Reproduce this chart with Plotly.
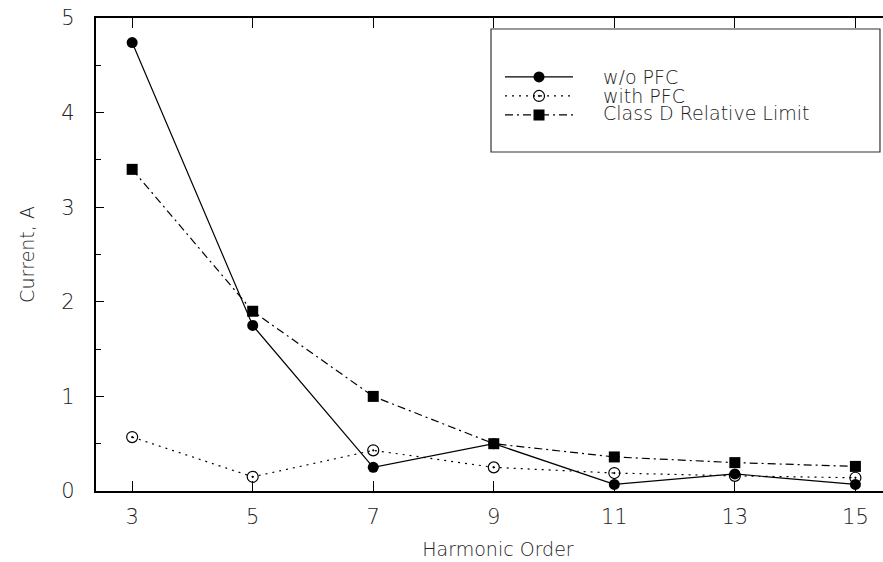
import plotly.graph_objects as go

harmonic_order = [3, 5, 7, 9, 11, 13, 15]
wo_pfc = [4.74, 1.75, 0.25, 0.50, 0.07, 0.18, 0.07]
with_pfc = [0.57, 0.15, 0.43, 0.25, 0.19, 0.16, 0.14]
class_d_limit = [3.40, 1.90, 1.00, 0.50, 0.36, 0.30, 0.26]
series_names = ["w/o PFC", "with PFC", "Class D Relative Limit"]
x_ticks = [3, 5, 7, 9, 11, 13, 15]
y_ticks = [0, 1, 2, 3, 4, 5]

FONT = "DejaVu Sans"
TXT = "#222222"
W = 200

fig = go.Figure()
fig.add_trace(go.Scatter(
    x=harmonic_order, y=wo_pfc, name=" ", mode="lines+markers",
    hovertext=series_names[0],
    line=dict(color="black", width=1.2, dash="solid"),
    marker=dict(symbol="circle", size=11, color="black"),
))
fig.add_trace(go.Scatter(
    x=harmonic_order, y=with_pfc, name=" ", mode="lines+markers",
    hovertext=series_names[1],
    line=dict(color="black", width=1.2, dash="2px,5px"),
    marker=dict(symbol="circle-open-dot", size=11, color="black", line=dict(width=1.2)),
))
fig.add_trace(go.Scatter(
    x=harmonic_order, y=class_d_limit, name=" ", mode="lines+markers",
    hovertext=series_names[2],
    line=dict(color="black", width=1.2, dash="8px,4px,2px,4px"),
    marker=dict(symbol="square", size=11, color="black"),
))

# legend frame
fig.add_shape(type="rect", xref="paper", yref="paper",
              x0=0.4913, x1=0.9751, y0=0.7167, y1=0.9767,
              line=dict(color="#333333", width=1.2), fillcolor="white", layer="below")

# legend labels
for name, yp in zip(series_names, [0.8753, 0.8372, 0.7992]):
    fig.add_annotation(text=name, xref="paper", yref="paper", x=0.6294, y=yp,
                       xanchor="left", yanchor="middle", showarrow=False,
                       height=17, valign="middle", borderpad=0,
                       font=dict(family=FONT, size=19, color=TXT, weight=W))

fig.update_layout(
    width=900, height=562,
    margin=dict(l=96, r=0, t=18, b=71, autoexpand=False),
    paper_bgcolor="white", plot_bgcolor="white",
    font=dict(family=FONT, color=TXT, size=18, weight=W),
    showlegend=True,
    legend=dict(
        x=0.5025, y=0.906, xanchor="left", yanchor="top",
        bgcolor="rgba(0,0,0,0)", borderwidth=0,
        font=dict(family=FONT, size=12, color=TXT),
        itemwidth=68, tracegroupgap=0,
    ),
    xaxis=dict(
        range=[2.4, 15.74], tickvals=x_ticks, ticktext=[str(v) for v in x_ticks],
        ticks="inside", ticklen=10, tickwidth=1.2, tickcolor="black",
        showline=True, linewidth=2.2, linecolor="black", mirror="ticks",
        showgrid=False, zeroline=False, automargin=False,
        ticklabelstandoff=6,
        tickfont=dict(family=FONT, size=21, color=TXT, weight=W),
        title=dict(text="Harmonic Order", standoff=14,
                   font=dict(family=FONT, size=19, color=TXT, weight=W)),
    ),
    yaxis=dict(
        range=[0, 5], tickvals=y_ticks, ticktext=[str(v) for v in y_ticks],
        ticks="inside", ticklen=8, tickwidth=1.2, tickcolor="black",
        minor=dict(dtick=0.5, ticks="inside", ticklen=5, tickwidth=1.2, tickcolor="black", showgrid=False),
        showline=True, linewidth=2.2, linecolor="black", mirror="ticks",
        showgrid=False, zeroline=False, automargin=False,
        ticklabelstandoff=15,
        tickfont=dict(family=FONT, size=21, color=TXT, weight=W),
        title=dict(text="Current, A", standoff=22,
                   font=dict(family=FONT, size=19, color=TXT, weight=W)),
    ),
)

fig.write_html("out.html", config={"displayModeBar": False},
               post_script="document.body.style.margin='0';document.body.style.overflow='hidden';")
